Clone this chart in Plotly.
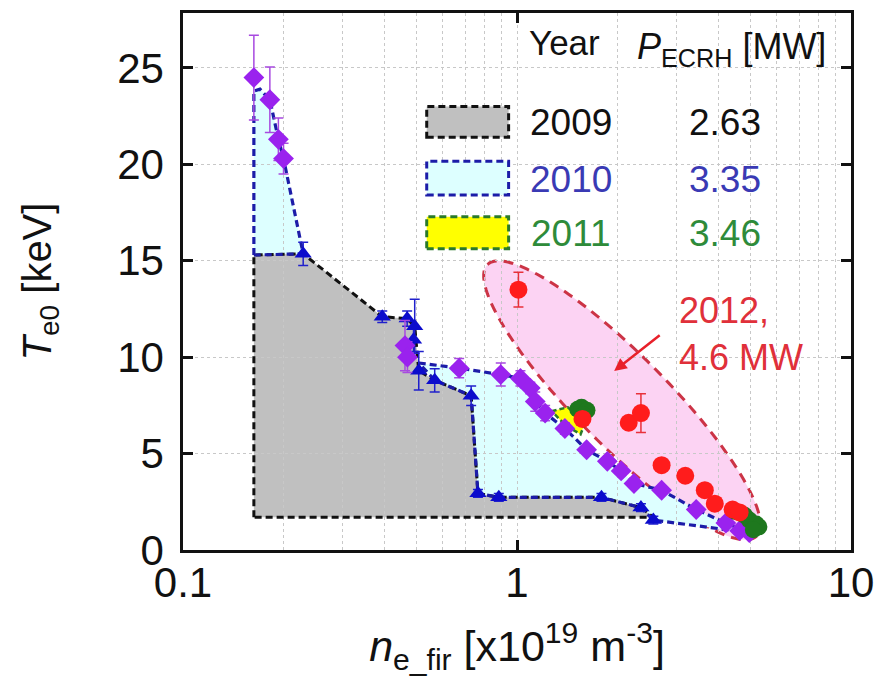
import numpy as np
import plotly.graph_objects as go

# ---------------- data ----------------
# 2009 campaign (blue triangles)
tri_x = [0.229, 0.395, 0.469, 0.494, 0.49, 0.508, 0.567, 0.729, 0.764, 0.882, 1.79, 2.35, 2.56]
tri_y = [15.36, 12.1, 12.0, 11.6, 10.9, 9.3, 8.8, 8.0, 2.94, 2.73, 2.73, 2.2, 1.55]
tri_e = [0.6, 0.3, 0.4, 1.4, 0.6, 1.0, 0.6, 0.5, 0.2, 0.2, 0.2, 0.2, 0.2]

# 2010 campaign (purple diamonds)
dia_x = [0.163, 0.182, 0.193, 0.200, 0.462, 0.47, 0.671, 0.894, 1.024, 1.096, 1.134, 1.214,
         1.391, 1.616, 1.864, 2.05, 2.24, 2.71, 3.44, 4.22, 4.64, 4.96]
dia_y = [24.5, 23.35, 21.3, 20.3, 10.6, 10.0, 9.43, 9.1, 8.9, 8.4, 7.7, 7.1,
         6.3, 5.2, 4.6, 4.1, 3.45, 3.1, 2.1, 1.4, 1.0, 0.9]
dia_e = [2.2, 1.7, 1.1, 0.8, 1.3, 0.8, 0.5, 0.6, 0.4, 0.3, 0.5, 0.4,
         0.3, 0.2, 0.2, 0.2, 0.2, 0.2, 0.2, 0.1, 0.1, 0.1]

# 2011 campaign (green)
grn_x = [1.52, 1.56, 1.62, 1.58, 4.5, 4.8, 4.96, 5.2, 5.3, 5.1]
grn_y = [7.3, 7.4, 7.25, 7.0, 2.0, 1.8, 1.55, 1.35, 1.2, 1.05]

# 2012 campaign (red circles)
red_x = [1.01, 1.57, 2.16, 2.35, 2.71, 3.19, 3.65, 3.91, 4.42, 4.64]
red_y = [13.5, 6.8, 6.6, 7.1, 4.4, 3.85, 3.1, 2.4, 2.1, 1.95]
red_e = [0.9, 0.3, 0.3, 1.0, 0.0, 0.0, 0.0, 0.0, 0.0, 0.0]

# operating-envelope boundaries
env09_x = [0.163, 0.163, 0.229, 0.395, 0.469, 0.494, 0.508, 0.567, 0.729, 0.764, 0.882, 1.79, 2.35, 2.56, 0.163]
env09_y = [1.7, 15.3, 15.36, 12.1, 12.0, 11.6, 9.3, 8.8, 8.0, 2.94, 2.73, 2.73, 2.2, 1.7, 1.7]

env10a_x = [0.163, 0.163, 0.17, 0.182, 0.193, 0.200, 0.229, 0.163]
env10a_y = [15.3, 23.8, 23.9, 23.35, 21.3, 20.3, 15.36, 15.3]

env10b_x = [0.508, 0.671, 0.894, 1.024, 1.096, 1.134, 1.214, 1.391, 1.616, 1.864, 2.05, 2.24,
            2.71, 3.44, 4.22, 4.96, 2.56, 2.35, 1.79, 0.882, 0.764, 0.729, 0.567, 0.508]
env10b_y = [9.7, 9.43, 9.1, 8.9, 8.4, 7.7, 7.1, 6.3, 5.2, 4.6, 4.1, 3.45,
            3.1, 2.1, 1.4, 0.9, 1.55, 2.2, 2.73, 2.73, 2.94, 8.0, 8.8, 9.7]

env11_x = [1.27, 1.42, 1.6, 1.55, 1.4, 1.27]
env11_y = [7.2, 7.4, 6.6, 6.0, 6.45, 7.2]

years = ["2009", "2010", "2011"]
powers = ["2.63", "3.35", "3.46"]

# ---------------- style ----------------
FONT = "Liberation Sans, Arial, Helvetica, sans-serif"
C_GRAY, C_CYAN, C_YEL, C_PINK = "#c0c0c0", "#ddffff", "#ffff00", "#fcd3f3"
C_BLK, C_BLU, C_GRN, C_RED = "#111111", "#1c1ca8", "#2a7a2a", "#cc3446"
TXT_COL = ["#111111", "#3a3ab4", "#2e8b3a"]
BOX_FILL = [C_GRAY, C_CYAN, C_YEL]
BOX_LINE = [C_BLK, C_BLU, C_GRN]

# plot-area pixel geometry
L, R, T, B = 183, 24, 10, 141
W, H = 884, 691
PW, PH = W - L - R, H - T - B


def px2paper(px, py):
    return (px - L) / PW, (H - B - py) / PH


def poly_path(xs, ys):
    return "M " + " L ".join(f"{x},{y}" for x, y in zip(xs, ys)) + " Z"


fig = go.Figure()

shapes = []
# filled regions (below grid)
shapes.append(dict(type="path", path=poly_path(env10a_x, env10a_y), xref="x", yref="y",
                   fillcolor=C_CYAN, line=dict(width=0), layer="below"))
shapes.append(dict(type="path", path=poly_path(env10b_x, env10b_y), xref="x", yref="y",
                   fillcolor=C_CYAN, line=dict(width=0), layer="below"))
shapes.append(dict(type="path", path=poly_path(env09_x, env09_y), xref="x", yref="y",
                   fillcolor=C_GRAY, line=dict(width=0), layer="below"))

# 2012 ellipse (in plot pixel space)
cx, cy, a, b, th = 628, 399.5, 193, 46, np.deg2rad(45)
t = np.linspace(0, 2 * np.pi, 121)
ex = cx + a * np.cos(t) * np.cos(th) - b * np.sin(t) * np.sin(th)
ey = cy + a * np.cos(t) * np.sin(th) + b * np.sin(t) * np.cos(th)
eu, ev = px2paper(ex, ey)
shapes.append(dict(type="path", path=poly_path(eu, ev), xref="paper", yref="paper",
                   fillcolor=C_PINK, line=dict(color=C_RED, width=3, dash="10px,7px"),
                   layer="below"))
shapes.append(dict(type="path", path=poly_path(env11_x, env11_y), xref="x", yref="y",
                   fillcolor=C_YEL, line=dict(width=0), layer="below"))

# legend boxes
box_px = [(104, 135), (159, 193), (215, 247)]
for i, (y0p, y1p) in enumerate(box_px):
    u0, v1 = px2paper(430, y0p)
    u1, v0 = px2paper(513, y1p)
    shapes.append(dict(type="rect", xref="paper", yref="paper", x0=u0, x1=u1, y0=v0, y1=v1,
                       fillcolor=BOX_FILL[i], line=dict(color=BOX_LINE[i], width=3, dash="7px,4px"),
                       layer="above"))

# outlines
DASH = "7px,4px"
fig.add_trace(go.Scatter(x=env09_x, y=env09_y, mode="lines",
                         line=dict(color=C_BLK, width=3, dash=DASH), hoverinfo="skip"))
fig.add_trace(go.Scatter(x=env10a_x, y=env10a_y, mode="lines",
                         line=dict(color=C_BLU, width=3.2, dash=DASH), hoverinfo="skip"))
fig.add_trace(go.Scatter(x=env10b_x, y=env10b_y, mode="lines",
                         line=dict(color=C_BLU, width=3.2, dash=DASH), hoverinfo="skip"))
fig.add_trace(go.Scatter(x=env11_x, y=env11_y, mode="lines",
                         line=dict(color=C_GRN, width=2.5, dash="5px,3px"), hoverinfo="skip"))

# data
fig.add_trace(go.Scatter(x=tri_x, y=tri_y, mode="markers",
                         marker=dict(symbol="triangle-up", size=15, color="#0c0ccc"),
                         error_y=dict(type="data", array=tri_e, color="#2020cc", thickness=1.5, width=5)))
fig.add_trace(go.Scatter(x=dia_x, y=dia_y, mode="markers",
                         marker=dict(symbol="diamond", size=16, color="#9a22ee"),
                         error_y=dict(type="data", array=dia_e, color="#a84ae0", thickness=1.5, width=5)))
fig.add_trace(go.Scatter(x=grn_x, y=grn_y, mode="markers",
                         marker=dict(symbol="circle", size=17, color="#1e781e")))
fig.add_trace(go.Scatter(x=red_x, y=red_y, mode="markers",
                         marker=dict(symbol="circle", size=18, color="#ff1c1c"),
                         error_y=dict(type="data", array=red_e, color="#e8303a", thickness=1.5, width=5)))

ann = []


def label(text, px, py, size, color, xanchor="center"):
    u, v = px2paper(px, py)
    ann.append(dict(text=text, x=u, y=v, xref="paper", yref="paper", showarrow=False,
                    xanchor=xanchor, yanchor="middle", align="left",
                    font=dict(size=size, color=color, family=FONT)))


# legend header
label("Year", 570, 40, 35, "#111111")
label("<i>P</i><sub>ECRH</sub> [MW]", 641, 46, 36, "#111111", xanchor="left")
row_y = [120, 177, 232]
for i in range(3):
    label(years[i], 576, row_y[i], 37, TXT_COL[i])
    label(powers[i], 732, row_y[i], 37, TXT_COL[i])
# 2012 label + arrow
label("2012,<br>4.6 MW", 684, 333, 36, "#e0303a", xanchor="left")
u, v = px2paper(620, 370)
ann.append(dict(text="", x=u, y=v, xref="paper", yref="paper", showarrow=True,
                ax=47, ay=-37, arrowhead=2, arrowsize=1, arrowwidth=2.5, arrowcolor="#e8202a",
                standoff=0))

grid = dict(gridcolor="#c8c8c8", griddash="dot", gridwidth=1)
fig.update_layout(
    width=W, height=H, margin=dict(l=L, r=R, t=T, b=B),
    paper_bgcolor="white", plot_bgcolor="white", showlegend=False,
    font=dict(family=FONT, color="#111111"),
    shapes=shapes, annotations=ann,
    xaxis=dict(type="log", range=[-1, 1], tickvals=[0.1, 1, 10], ticktext=["0.1", "1", "10"],
               ticks="inside", ticklen=10, tickwidth=2.5, tickcolor="#111111",
               showline=True, linecolor="#111111", linewidth=2.5, mirror="ticks",
               tickfont=dict(size=42, family=FONT, color="#111111"), ticklabelstandoff=-6,
               showgrid=True, **grid, zeroline=False,
               minor=dict(tickvals=[0.2, 0.3, 0.4, 0.5, 0.6, 0.7, 0.8, 0.9, 2, 3, 4, 5, 6, 7, 8, 9],
                          showgrid=True, ticks="", **grid),
               title=dict(text="<i>n</i><sub>e_fir</sub> [x10<sup>19</sup> m<sup>-3</sup>]",
                          font=dict(size=43, family=FONT, color="#111111"), standoff=26)),
    yaxis=dict(range=[0, 27.85], tickvals=[0, 5, 10, 15, 20, 25],
               ticks="inside", ticklen=10, tickwidth=2.5, tickcolor="#111111",
               showline=True, linecolor="#111111", linewidth=2.5, mirror="ticks",
               tickfont=dict(size=42, family=FONT, color="#111111"), ticklabelstandoff=8,
               showgrid=True, **grid, zeroline=False,
               title=dict(text="<i>T</i><sub>e0</sub> [keV]",
                          font=dict(size=40, family=FONT, color="#111111"), standoff=54)),
)

fig.write_html("out.html")
